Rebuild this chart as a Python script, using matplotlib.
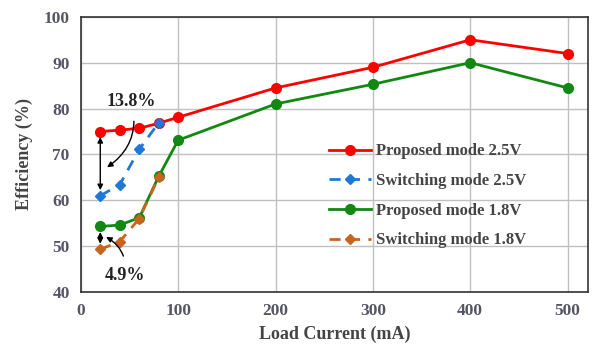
import matplotlib
matplotlib.use("Agg")
import matplotlib.pyplot as plt

x_prop = [20, 40, 60, 80, 100, 200, 300, 400, 500]
prop_25 = [75.0, 75.3, 75.7, 76.8, 78.1, 84.5, 89.0, 95.0, 92.0]
prop_18 = [54.3, 54.6, 56.2, 65.2, 73.1, 81.0, 85.3, 90.0, 84.5]
x_sw = [20, 40, 60, 80]
sw_25 = [61.0, 63.4, 71.1, 76.9]
sw_18 = [49.3, 51.0, 56.0, 65.0]
x_ticks = [0, 100, 200, 300, 400, 500]
y_ticks = [40, 50, 60, 70, 80, 90, 100]

plt.rcParams['font.family'] = ['Liberation Serif', 'DejaVu Serif']
fig = plt.figure(figsize=(5.94, 3.51), dpi=100)
ax = fig.add_axes([0.136, 0.168, 0.854, 0.784])

ax.plot(x_prop, prop_25, color='#ff0000', marker='o', ms=7, lw=2, label='Proposed mode 2.5V', zorder=3)
ax.plot(x_sw, sw_25, color='#1f78d6', marker='D', ms=5.5, lw=2, ls=(0, (4, 3)), label='Switching mode 2.5V', zorder=4)
ax.plot(x_prop, prop_18, color='#118811', marker='o', ms=7, lw=2, label='Proposed mode 1.8V', zorder=3)
ax.plot(x_sw, sw_18, color='#c8641e', marker='D', ms=5.5, lw=2, ls=(0, (4, 3)), label='Switching mode 1.8V', zorder=4)

ax.set_xlim(0, 521)
ax.set_ylim(40, 100)
ax.set_xticks(x_ticks)
ax.set_yticks(y_ticks)
ax.grid(True, color='#c0c0c0', lw=1)
ax.set_axisbelow(True)
for s in ax.spines.values():
    s.set_color('#333333')
    s.set_linewidth(1.2)
ax.tick_params(length=0, pad=8, labelsize=12.5, labelcolor='#555566')
for t in ax.get_xticklabels() + ax.get_yticklabels():
    t.set_fontweight('bold')
ax.set_xlabel('Load Current (mA)', fontsize=13, fontweight='bold', color='#444444', labelpad=5)
ax.set_ylabel('Efficiency (%)', fontsize=13, fontweight='bold', color='#444444', labelpad=8)

# annotations
ax.annotate('', xy=(20, prop_25[0] - 0.6), xytext=(20, sw_25[0] + 0.6),
            arrowprops=dict(arrowstyle='<|-|>', color='black', lw=1, mutation_scale=8), zorder=5)
ax.annotate('', xy=(20, prop_18[0] - 0.6), xytext=(20, sw_18[0] + 0.6),
            arrowprops=dict(arrowstyle='<|-|>', color='black', lw=1, mutation_scale=8), zorder=5)
ax.annotate('13.8%', xy=(27, 67.2), xytext=(52, 81.5), fontsize=13, fontweight='bold',
            ha='center', va='center', color='#222222',
            arrowprops=dict(arrowstyle='-|>', color='black', lw=1, mutation_scale=8,
                            connectionstyle='arc3,rad=-0.35', shrinkA=6, shrinkB=0), zorder=5)
ax.annotate('4.9%', xy=(26, 52.0), xytext=(45, 43.6), fontsize=13, fontweight='bold',
            ha='center', va='center', color='#222222',
            arrowprops=dict(arrowstyle='-|>', color='black', lw=1, mutation_scale=8,
                            connectionstyle='arc3,rad=0.35', shrinkA=6, shrinkB=0), zorder=5)

leg = ax.legend(loc='upper left', bbox_to_anchor=(0.49, 0.54), frameon=False,
                prop={'size': 12, 'weight': 'bold'}, handlelength=2.5,
                handletextpad=0.3, labelspacing=0.82, borderaxespad=0, borderpad=0)
for t in leg.get_texts():
    t.set_color('#444444')

fig.savefig('out.png', dpi=100)
